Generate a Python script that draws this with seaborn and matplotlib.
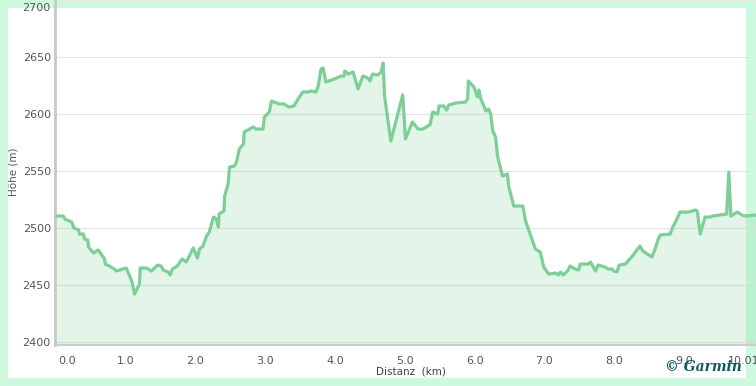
import numpy as np
import pandas as pd
import seaborn as sns
import matplotlib.pyplot as plt
import matplotlib.transforms as mtransforms
from matplotlib.patches import Rectangle

# Höhenprofil
distanz_km = [0.01, 0.11, 0.13, 0.23, 0.26, 0.33, 0.34, 0.40, 0.41, 0.46, 0.47, 0.54, 0.61, 0.70, 0.71,
              0.77, 0.84, 0.87, 1.01, 1.09, 1.13, 1.20, 1.21, 1.30, 1.37, 1.46, 1.51, 1.54, 1.61, 1.64,
              1.67, 1.74, 1.81, 1.87, 1.97, 2.03, 2.06, 2.11, 2.16, 2.20, 2.26, 2.30, 2.33, 2.34, 2.41,
              2.42, 2.47, 2.49, 2.56, 2.59, 2.63, 2.69, 2.70, 2.83, 2.87, 2.97, 2.99, 3.06, 3.09, 3.13,
              3.20, 3.27, 3.34, 3.41, 3.49, 3.54, 3.61, 3.66, 3.73, 3.76, 3.80, 3.83, 3.87, 3.99, 4.09,
              4.13, 4.14, 4.19, 4.26, 4.33, 4.40, 4.47, 4.50, 4.54, 4.61, 4.66, 4.69, 4.71, 4.80, 4.97,
              5.01, 5.11, 5.19, 5.26, 5.33, 5.36, 5.40, 5.47, 5.49, 5.56, 5.60, 5.63, 5.73, 5.87, 5.90,
              5.91, 5.99, 6.04, 6.06, 6.09, 6.16, 6.20, 6.23, 6.26, 6.30, 6.33, 6.40, 6.47, 6.49, 6.56,
              6.69, 6.73, 6.83, 6.87, 6.94, 6.99, 7.06, 7.16, 7.20, 7.23, 7.27, 7.33, 7.37, 7.44, 7.49,
              7.51, 7.63, 7.66, 7.73, 7.77, 7.87, 7.91, 7.97, 7.99, 8.04, 8.07, 8.16, 8.26, 8.30, 8.37,
              8.41, 8.54, 8.59, 8.63, 8.66, 8.80, 8.84, 8.91, 8.94, 9.06, 9.11, 9.16, 9.19, 9.23, 9.30,
              9.37, 9.41, 9.61, 9.64, 9.67, 9.76, 9.83, 9.87, 10.03]
hoehe_m = [2510.5, 2510.5, 2507.9, 2505.3, 2500.0, 2498.2, 2494.7, 2494.7, 2490.4, 2489.5, 2483.3, 2478.1,
           2480.7, 2472.8, 2468.4, 2466.7, 2464.0, 2462.3, 2464.9, 2453.5, 2442.1, 2450.9, 2464.9, 2464.9,
           2462.3, 2467.5, 2466.7, 2463.2, 2461.4, 2458.8, 2464.0, 2466.7, 2472.8, 2470.2, 2482.5, 2473.7,
           2481.6, 2484.2, 2493.0, 2496.5, 2509.6, 2507.9, 2500.9, 2512.3, 2514.9, 2528.1, 2538.6, 2553.5,
           2554.4, 2557.9, 2569.3, 2573.7, 2584.2, 2588.6, 2586.8, 2586.8, 2597.4, 2601.8, 2611.4, 2610.5,
           2608.8, 2608.8, 2606.1, 2607.0, 2614.9, 2619.3, 2619.3, 2620.2, 2619.3, 2624.6, 2639.5, 2640.4,
           2628.1, 2630.7, 2633.3, 2633.3, 2637.7, 2635.1, 2636.8, 2621.9, 2633.3, 2631.6, 2628.9, 2635.1,
           2634.2, 2636.8, 2644.7, 2615.8, 2576.3, 2616.7, 2578.1, 2593.0, 2586.8, 2586.8, 2589.5, 2590.4,
           2601.8, 2600.0, 2607.0, 2607.0, 2603.5, 2607.9, 2609.6, 2610.5, 2613.2, 2628.9, 2623.7, 2614.9,
           2621.1, 2613.2, 2602.6, 2604.4, 2600.0, 2585.1, 2579.8, 2562.3, 2545.6, 2547.4, 2536.0, 2519.3,
           2519.3, 2506.1, 2488.6, 2481.6, 2478.9, 2465.8, 2459.6, 2460.5, 2458.8, 2461.4, 2458.8, 2462.3,
           2466.7, 2464.0, 2463.2, 2468.4, 2468.4, 2470.2, 2462.3, 2467.5, 2465.8, 2464.0, 2464.0, 2462.3,
           2461.4, 2467.5, 2468.4, 2475.4, 2478.9, 2484.2, 2479.8, 2474.6, 2482.5, 2490.4, 2493.9, 2494.7,
           2500.9, 2509.6, 2514.0, 2514.0, 2514.9, 2515.8, 2514.9, 2494.7, 2509.6, 2509.6, 2510.5, 2512.3,
           2549.1, 2510.5, 2514.0, 2511.4, 2510.5, 2511.4]
x_ticks = [0, 1, 2, 3, 4, 5, 6, 7, 8, 9, 10]
x_labels = ["0.0", "1.0", "2.0", "3.0", "4.0", "5.0", "6.0", "7.0", "8.0", "9.0", "10.01"]
y_ticks = [2400, 2450, 2500, 2550, 2600, 2650, 2700]

df = pd.DataFrame({"km": distanz_km, "hoehe": hoehe_m})

sns.set_style("white")
plt.rcParams["font.family"] = ["DejaVu Sans"]

mint = "#cdfadf"
linie = "#7dcf97"

fig = plt.figure(figsize=(7.56, 3.86), dpi=100, facecolor=mint)
fig.patches.append(Rectangle((8 / 756, 8 / 386), 738 / 756, 370 / 386,
                             transform=fig.transFigure, facecolor="white",
                             edgecolor="none", zorder=-5))

ax = fig.add_axes([55 / 756, 41 / 386, 701 / 756, 345 / 386])
ax.patch.set_alpha(0)

y0 = 2397.4
ax.fill_between(df["km"], df["hoehe"], y0, color="#7fd39a", alpha=0.22, linewidth=0, zorder=1)
sns.lineplot(data=df, x="km", y="hoehe", ax=ax, estimator=None, sort=False,
             color=linie, linewidth=2.3, zorder=3)

ax.set_xlim(-0.01, 10.03)
ax.set_ylim(y0, 2700)
ax.set_yticks(y_ticks)
ax.set_xticks(x_ticks)
ax.set_xticklabels(x_labels)
ax.grid(axis="y", color="#e4e4e4", linewidth=0.8, zorder=0)
ax.set_axisbelow(True)

for s in ["top", "right"]:
    ax.spines[s].set_visible(False)
ax.spines["left"].set_color("#c8c8c8")
ax.spines["left"].set_linewidth(2)
ax.spines["bottom"].set_color("#cccccc")
ax.spines["bottom"].set_linewidth(1.5)

ax.tick_params(axis="y", length=0, pad=3, labelsize=8, labelcolor="#555555")
ax.tick_params(axis="x", length=3, width=1, color="#cccccc", pad=5,
               labelsize=8, labelcolor="#555555")

# Randbeschriftungen nach innen geschoben wie im Original
xl = ax.get_xticklabels()
xl[0].set_horizontalalignment("left")
xl[0].set_transform(xl[0].get_transform() + mtransforms.ScaledTranslation(0.03, 0, fig.dpi_scale_trans))
xl[-1].set_horizontalalignment("right")
xl[-1].set_transform(xl[-1].get_transform() + mtransforms.ScaledTranslation(0.06, 0, fig.dpi_scale_trans))
yl = ax.get_yticklabels()
yl[-1].set_transform(yl[-1].get_transform() + mtransforms.ScaledTranslation(0, -0.07, fig.dpi_scale_trans))

ax.set_xlabel("")
ax.set_ylabel("")

fig.text(13 / 756, 1 - 172 / 386, "Höhe (m)", rotation=90, ha="center", va="center",
         fontsize=7.5, color="#555555")
fig.text(411 / 756, 1 - 372 / 386, "Distanz  (km)", ha="center", va="center",
         fontsize=7.5, color="#444444")
fig.text(742 / 756, 1 - 367 / 386, "© Garmin", ha="right", va="center",
         fontsize=10, color="#0d5c5a", fontweight="bold", fontstyle="italic",
         family="DejaVu Serif")

fig.savefig("out.png", dpi=100, facecolor=mint)
